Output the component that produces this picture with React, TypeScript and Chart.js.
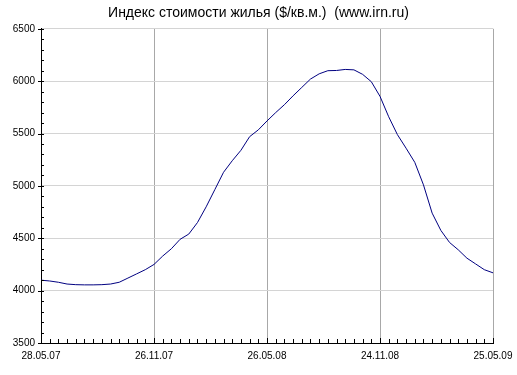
import React, { useEffect, useRef } from "react";
import { Chart, registerables } from "chart.js";

Chart.register(...registerables);

const chartTitle = "Индекс стоимости жилья ($/кв.м.)  (www.irn.ru)";
// major x tick labels, one every 26 weeks
const tickLabels = ["28.05.07", "26.11.07", "26.05.08", "24.11.08", "25.05.09"];
// weeks since 28.05.07 (every 2 weeks)
const weeks = [
  0, 2, 4, 6, 8, 10, 12, 14, 16, 18, 20, 22, 24, 26, 28, 30, 32, 34, 36, 38,
  40, 42, 44, 46, 48, 50, 52, 54, 56, 58, 60, 62, 64, 66, 68, 70, 72, 74, 76,
  78, 80, 82, 84, 86, 88, 90, 92, 94, 96, 98, 100, 102, 104,
];
// index value, $/sq.m
const values = [
  4100, 4092, 4080, 4063, 4057, 4055, 4055, 4057, 4063, 4080,
  4120, 4160, 4200, 4250, 4330, 4400, 4490, 4540, 4650, 4800,
  4965, 5130, 5240, 5340, 5470, 5535, 5620, 5700, 5775, 5860,
  5940, 6020, 6070, 6100, 6102, 6112, 6108, 6065, 5995, 5855,
  5660, 5490, 5360, 5225, 5010, 4740, 4575, 4460, 4390, 4310,
  4255, 4200, 4170,
];

const FONT = "'Liberation Sans', Arial, sans-serif";

const innerTicks = {
  id: "innerTicks",
  afterDraw(chart: any) {
    const { ctx, chartArea, scales } = chart;
    const { left, bottom } = chartArea;
    const x = scales.x;
    const y = scales.y;
    ctx.save();
    ctx.strokeStyle = "#000";
    ctx.lineWidth = 1;
    ctx.beginPath();
    for (let w = x.min; w <= x.max; w += 2) {
      const px = Math.round(x.getPixelForValue(w)) + 0.5;
      const len = w % 26 === 0 ? 5 : 4;
      ctx.moveTo(px, bottom);
      ctx.lineTo(px, bottom - len);
    }
    for (let v = y.min; v <= y.max; v += 100) {
      const py = Math.round(y.getPixelForValue(v)) + 0.5;
      const major = v % 500 === 0;
      ctx.moveTo(left - (major ? 3 : 0), py);
      ctx.lineTo(left + 3, py);
    }
    ctx.stroke();
    ctx.restore();
  },
};

export default function App() {
  const ref = useRef<HTMLCanvasElement | null>(null);

  useEffect(() => {
    document.body.style.margin = "0";
    const canvas = ref.current;
    if (!canvas) return;
    const chart = new Chart(canvas, {
      type: "line",
      data: {
        datasets: [
          {
            data: weeks.map((w, i) => ({ x: w, y: values[i] })),
            borderColor: "#000080",
            borderWidth: 1,
            pointRadius: 0,
            tension: 0,
            fill: false,
          },
        ],
      },
      options: {
        responsive: false,
        animation: false,
        devicePixelRatio: 1,
        layout: { padding: 0 },
        plugins: {
          legend: { display: false },
          tooltip: { enabled: false },
          title: {
            display: true,
            text: chartTitle,
            color: "#000",
            font: { family: FONT, size: 14, weight: "normal" },
            padding: { top: 5, bottom: 7 },
          },
        },
        scales: {
          x: {
            type: "linear",
            min: 0,
            max: 104,
            ticks: {
              stepSize: 26,
              autoSkip: false,
              maxRotation: 0,
              padding: 7,
              color: "#000",
              font: { family: FONT, size: 10 },
              callback: (v: any) => tickLabels[Math.round(Number(v) / 26)] ?? "",
            },
            grid: { color: "#a8a8a8", drawTicks: false, lineWidth: 1 },
            border: { color: "#000", width: 1 },
            afterFit: (s: any) => {
              s.height = 32;
              s.paddingRight = 24;
              s.paddingLeft = 0;
            },
          },
          y: {
            min: 3500,
            max: 6500,
            ticks: {
              stepSize: 500,
              padding: 6,
              color: "#000",
              font: { family: FONT, size: 10 },
              callback: (v: any) => String(v),
            },
            grid: { color: "#d4d4d4", drawTicks: false, lineWidth: 1 },
            border: { color: "#000", width: 1 },
            afterFit: (s: any) => {
              s.width = 41;
            },
          },
        },
      },
      plugins: [innerTicks],
    });
    return () => chart.destroy();
  }, []);

  return (
    <div style={{ width: 517, height: 375, background: "#fff" }}>
      <canvas ref={ref} width={517} height={375} />
    </div>
  );
}
